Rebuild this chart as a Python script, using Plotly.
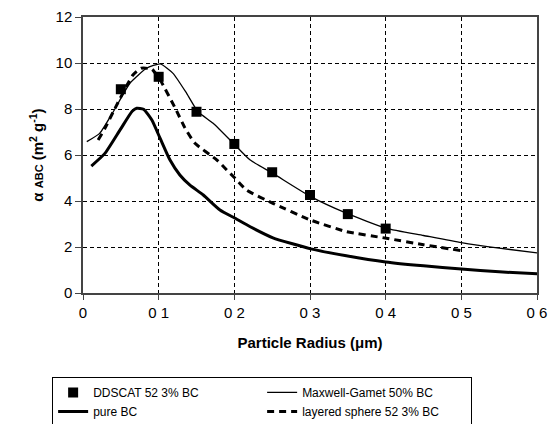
import plotly.graph_objects as go

# DDSCAT 52.3% BC (squares)
dd_x = [0.05, 0.10, 0.15, 0.20, 0.25, 0.30, 0.35, 0.40]
dd_y = [8.86, 9.40, 7.88, 6.48, 5.25, 4.26, 3.43, 2.80]

# Maxwell-Garnett 50% BC (thin line)
mg_x = [0.005, 0.022, 0.04, 0.062, 0.084, 0.102, 0.119, 0.137, 0.152, 0.172, 0.201, 0.221, 0.251, 0.301, 0.348, 0.401, 0.45, 0.50, 0.55, 0.604]
mg_y = [6.58, 6.94, 7.88, 9.12, 9.77, 9.96, 9.55, 8.68, 7.88, 7.38, 6.43, 5.78, 5.20, 4.19, 3.47, 2.81, 2.50, 2.19, 1.95, 1.73]

# pure BC (thick line)
bc_x = [0.011, 0.029, 0.049, 0.065, 0.071, 0.080, 0.091, 0.102, 0.115, 0.128, 0.141, 0.159, 0.181, 0.201, 0.221, 0.251, 0.301, 0.348, 0.40, 0.45, 0.50, 0.55, 0.604]
bc_y = [5.52, 6.07, 7.09, 7.90, 8.03, 7.99, 7.52, 6.72, 5.78, 5.13, 4.70, 4.26, 3.61, 3.25, 2.88, 2.40, 1.92, 1.62, 1.35, 1.18, 1.04, 0.92, 0.83]

# layered sphere 52.3% BC (dashed)
ls_x = [0.02, 0.029, 0.04, 0.066, 0.077, 0.091, 0.102, 0.122, 0.135, 0.148, 0.177, 0.19, 0.201, 0.216, 0.251, 0.301, 0.348, 0.401, 0.45, 0.50]
ls_y = [6.65, 7.16, 7.88, 9.48, 9.77, 9.73, 9.26, 8.03, 7.16, 6.51, 5.78, 5.35, 4.99, 4.48, 3.90, 3.17, 2.67, 2.38, 2.10, 1.84]

x_tickvals = [0, 0.1, 0.2, 0.3, 0.4, 0.5, 0.6]
x_ticktext = ["0", "0 1", "0 2", "0 3", "0 4", "0 5", "0 6"]
y_tickvals = [0, 2, 4, 6, 8, 10, 12]

FONT = "Liberation Sans, Arial, sans-serif"

fig = go.Figure()
fig.add_trace(go.Scatter(x=dd_x, y=dd_y, mode="markers", name="DDSCAT 52 3% BC",
                         marker=dict(symbol="square", size=10, color="black")))
fig.add_trace(go.Scatter(x=mg_x, y=mg_y, mode="lines", name="Maxwell-Gamet 50% BC",
                         line=dict(color="black", width=1.3, shape="spline", smoothing=0.5)))
fig.add_trace(go.Scatter(x=bc_x, y=bc_y, mode="lines", name="pure BC",
                         line=dict(color="black", width=3, shape="spline", smoothing=0.5)))
fig.add_trace(go.Scatter(x=ls_x, y=ls_y, mode="lines", name="layered sphere 52 3% BC",
                         line=dict(color="black", width=3, dash="7px,5px", shape="spline", smoothing=0.5)))

fig.update_layout(
    width=551, height=424,
    margin=dict(l=83, r=14, t=17, b=131, autoexpand=False),
    paper_bgcolor="white", plot_bgcolor="white",
    font=dict(family=FONT, color="black"),
    showlegend=True,
    legend=dict(orientation="h", x=-0.068, xref="paper", y=-0.304, yanchor="top",
                xanchor="left", entrywidth=164, entrywidthmode="pixels",
                bordercolor="black", borderwidth=1, bgcolor="white",
                font=dict(size=12, family=FONT), tracegroupgap=0),
)
fig.update_xaxes(range=[0, 0.6], tickvals=x_tickvals, ticktext=x_ticktext,
                 showgrid=True, gridcolor="black", gridwidth=0.8, griddash="4px,3px",
                 showline=True, linecolor="#444", linewidth=1.5, mirror=True,
                 ticks="outside", ticklen=5, tickcolor="#444",
                 tickfont=dict(size=15, family=FONT), zeroline=False, automargin=False,
                 title=dict(text="<b>Particle Radius (μm)</b>", font=dict(size=15, family=FONT), standoff=18))
fig.update_yaxes(range=[0, 12], tickvals=y_tickvals,
                 showgrid=True, gridcolor="black", gridwidth=0.8, griddash="4px,3px",
                 showline=True, linecolor="#444", linewidth=1.5, mirror=True,
                 ticks="outside", ticklen=6, tickcolor="#444",
                 tickfont=dict(size=15, family=FONT), zeroline=False, automargin=False,
                 title=dict(text="<b>α <span style='font-size:11px'>ABC</span> (m<sup>2</sup> g<sup>-1</sup>)</b>",
                            font=dict(size=15, family=FONT), standoff=8))

fig.write_html("out.html")
